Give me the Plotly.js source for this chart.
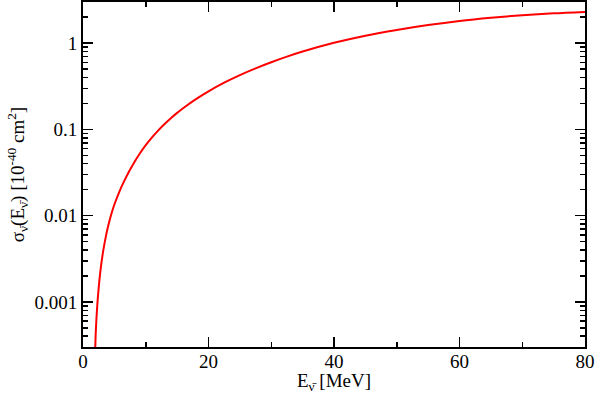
<!DOCTYPE html>
<html>
<head>
<meta charset="utf-8">
<script src="https://cdn.plot.ly/plotly-3.0.1.min.js"></script>
<style>html,body{margin:0;padding:0;background:#fff;}#chart{width:597px;height:394px;}</style>
</head>
<body>
<div id="chart"></div>
<script>
// Neutrino energy [MeV]
var energy = [1.9, 2.0, 2.1, 2.2, 2.35, 2.6, 2.86, 3.2, 3.66, 4.0, 4.45, 5.0, 5.77, 6.5, 7.36, 8.16, 9.0, 10, 11, 12, 13, 14, 15, 16, 18, 20, 22.5, 25, 27.5, 30, 32.5, 35, 40, 45, 50, 55, 60, 65, 70, 75, 80];
// Cross section [1e-40 cm^2]
var sigma = [0.000221, 0.000383, 0.000559, 0.000754, 0.001085, 0.001743, 0.002563, 0.003823, 0.005834, 0.007537, 0.010064, 0.013453, 0.018788, 0.024601, 0.032684, 0.04143, 0.051864, 0.065615, 0.080798, 0.097454, 0.11548, 0.13484, 0.15541, 0.1773, 0.22467, 0.27656, 0.3482, 0.42618, 0.51028, 0.60093, 0.69741, 0.79868, 1.00833, 1.2193, 1.4227, 1.6218, 1.8088, 1.97, 2.1086, 2.2182, 2.3014];
var yTickVals = [0.001, 0.01, 0.1, 1];
var yTickText = ["0.001", "0.01", "0.1", "1"];
var xTickVals = [0, 20, 40, 60, 80];

var yMinor = [];
[1e-4, 1e-3, 1e-2, 1e-1, 1].forEach(function(d){ for (var k = 2; k <= 9; k++) yMinor.push(k*d); });

var fontFam = "Liberation Serif, Times New Roman, serif";
var trace = {
  x: energy, y: sigma, type: 'scatter', mode: 'lines',
  line: {color: '#ff0000', width: 2, shape: 'spline', smoothing: 0.8},
  hoverinfo: 'skip'
};
var layout = {
  width: 597, height: 394,
  margin: {l: 83, r: 12, t: 2, b: 47},
  paper_bgcolor: '#fff', plot_bgcolor: '#fff',
  showlegend: false,
  font: {family: fontFam, size: 19, color: '#000'},
  xaxis: {
    range: [0, 80], tickmode: 'array', tickvals: xTickVals,
    ticks: 'inside', ticklen: 10, tickwidth: 1.5, tickcolor: '#000',
    minor: {ticks: 'inside', ticklen: 5, tickwidth: 1.5, tickcolor: '#000', dtick: 10, tick0: 0},
    showgrid: false, zeroline: false,
    showline: true, linewidth: 2, linecolor: '#000', mirror: 'allticks',
    tickfont: {family: fontFam, size: 19},
    ticklabelstandoff: -4,
    title: {text: 'E<sub>ν̄</sub> [MeV]', font: {family: fontFam, size: 19}, standoff: 4}
  },
  yaxis: {
    type: 'log', range: [Math.log10(0.0003), Math.log10(3)],
    tickmode: 'array', tickvals: yTickVals, ticktext: yTickText,
    ticks: 'inside', ticklen: 10, tickwidth: 1.5, tickcolor: '#000',
    minor: {ticks: 'inside', ticklen: 5, tickwidth: 1.5, tickcolor: '#000', tickmode: 'array', tickvals: yMinor},
    showgrid: false, zeroline: false,
    showline: true, linewidth: 2, linecolor: '#000', mirror: 'allticks',
    tickfont: {family: fontFam, size: 19},
    title: {text: 'σ<sub>ν̄</sub>(E<sub>ν̄</sub>) [10<sup>-40</sup> cm<sup>2</sup>]', font: {family: fontFam, size: 19}, standoff: 5}
  }
};
Plotly.newPlot('chart', [trace], layout, {staticPlot: true, displayModeBar: false});
</script>
</body>
</html>
